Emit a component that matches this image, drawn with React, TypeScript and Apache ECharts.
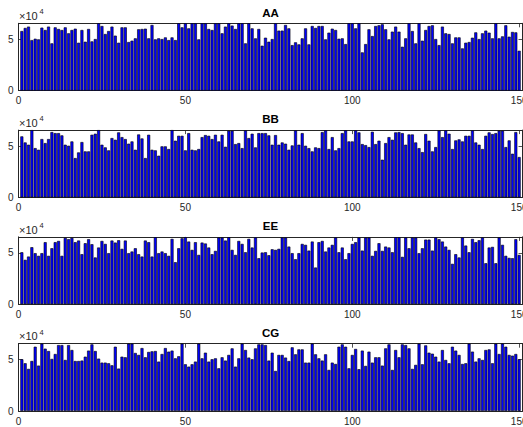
import React, { useEffect, useRef } from "react";
import * as echarts from "echarts";

const panelTitles = ["AA", "BB", "EE", "CG"];
const barIndex = Array.from({ length: 150 }, (_, i) => i + 1);
const xTickValues = [0, 50, 100, 150];
const yTickLabels: Record<number, string> = { 0: "0", 50000: "5" };
const yMax = 65536;

const aa = [
  58000, 61000, 62300, 49200, 50500, 49900, 61300, 59000, 62300, 46000,
  61600, 60000, 59000, 61600, 55800, 59000, 60300, 46600, 59000, 47600,
  60000, 47900, 50200, 65536, 62900, 55100, 58000, 62300, 53500, 46600,
  61600, 61600, 47300, 48600, 50900, 59700, 60000, 60300, 50900, 63900,
  49900, 50900, 50200, 51800, 49200, 51800, 49200, 65536, 61600, 65536,
  60600, 65536, 65536, 49900, 65536, 65536, 60000, 59000, 65536, 65536,
  55800, 62300, 65536, 63300, 60000, 65536, 65536, 46000, 65536, 60600,
  50900, 60000, 43700, 51500, 47600, 50200, 65536, 58400, 58400, 63900,
  60600, 44300, 47000, 45000, 50900, 60600, 45000, 62900, 61000, 62900,
  62900, 49900, 56400, 60300, 59000, 50500, 50900, 45300, 65536, 65536,
  60600, 65536, 37200, 45300, 59700, 53100, 62900, 63600, 64600, 59700,
  49900, 57400, 62300, 57400, 42700, 50900, 65536, 58000, 46000, 65536,
  48600, 59000, 62900, 63600, 50200, 44300, 62300, 55800, 55100, 46000,
  51800, 51800, 41100, 46600, 47300, 51500, 56700, 50200, 55800, 58400,
  56400, 50900, 65536, 50900, 52800, 63600, 52500, 57100, 56700, 38800,
];

const bb = [
  59400, 53500, 51300, 65536, 48000, 46400, 56800, 52900, 56800, 63600,
  62600, 62600, 60400, 51300, 50300, 54500, 38300, 43800, 53900, 44800,
  44800, 61000, 62000, 65536, 51300, 48700, 45800, 57800, 56100, 63300,
  58700, 56800, 52300, 54500, 46400, 61300, 57400, 38300, 61000, 46400,
  45800, 40600, 49700, 49700, 47100, 65536, 55200, 60000, 60000, 45800,
  62600, 46400, 45800, 47100, 58700, 60700, 60000, 56800, 61000, 54500,
  61000, 49300, 64900, 64900, 51900, 52900, 48000, 65200, 57800, 62000,
  48700, 62600, 62600, 62600, 60400, 51300, 60700, 51300, 53500, 52300,
  46400, 50600, 65200, 51300, 62600, 50300, 48000, 44800, 48700, 48000,
  63600, 65200, 47100, 58700, 45800, 48000, 62600, 65200, 54500, 54500,
  65200, 63300, 51900, 50900, 49000, 63900, 51900, 55200, 36700, 52900,
  58700, 56100, 63300, 63600, 62600, 51300, 61300, 61300, 53500, 48000,
  44100, 61700, 55200, 44800, 49000, 65200, 58700, 65200, 62000, 47100,
  55500, 56500, 54500, 60000, 60000, 65200, 53500, 51300, 47100, 60000,
  63300, 61700, 62600, 64900, 64900, 49000, 55500, 42500, 63600, 39300,
];

const ee = [
  50600, 43200, 46400, 55500, 49700, 47100, 49700, 60400, 47100, 54500,
  60400, 61600, 47100, 64600, 63300, 64600, 60400, 62000, 48700, 59400,
  63300, 58400, 45500, 55200, 61600, 58700, 49700, 62000, 60000, 62300,
  53900, 62000, 49700, 51300, 54500, 48700, 46400, 62000, 60400, 46400,
  65200, 49700, 51300, 49700, 47100, 63600, 40900, 54500, 64200, 65200,
  61000, 52900, 60400, 48000, 60000, 59100, 55200, 48700, 51900, 64900,
  64900, 62000, 65200, 52900, 48000, 61600, 58700, 50600, 63600, 55200,
  64900, 44800, 50300, 50600, 47700, 53500, 52900, 53900, 64900, 64900,
  56100, 49700, 43800, 49700, 58700, 57800, 52200, 61000, 35700, 60400,
  61600, 51300, 55200, 57800, 64900, 50600, 55200, 43800, 49700, 58700,
  60400, 64900, 52200, 64900, 64900, 47100, 51900, 59400, 51900, 56100,
  55200, 50600, 65200, 65200, 46100, 64900, 54500, 64900, 64900, 49700,
  54500, 62900, 62900, 52200, 64900, 63300, 61000, 56100, 52900, 39300,
  48700, 45500, 64900, 57100, 50600, 63600, 60400, 62300, 64900, 39900,
  55200, 55800, 39900, 64900, 57800, 47100, 45100, 44800, 63300, 48000,
];

const cg = [
  50400, 46500, 41000, 48700, 62600, 44200, 65536, 60700, 58400, 50700,
  55500, 64200, 64200, 49700, 64200, 59400, 48700, 48700, 49100, 52900,
  58800, 64900, 58400, 51000, 47100, 47100, 46500, 44500, 62600, 41300,
  52900, 52300, 65536, 65536, 56500, 54600, 61300, 52300, 57500, 58100,
  58400, 48100, 55500, 61300, 57800, 58800, 51300, 53300, 65536, 45500,
  43200, 45500, 48100, 65536, 51300, 56800, 48100, 50400, 51300, 41600,
  52300, 49100, 54600, 61000, 43200, 51300, 65536, 59400, 52000, 50400,
  61000, 64900, 64900, 64200, 49100, 56800, 39000, 54600, 54600, 52000,
  48700, 62000, 55200, 60000, 60000, 47100, 47100, 65536, 55200, 51300,
  49100, 55200, 40000, 47100, 45800, 62600, 64900, 62600, 41600, 54600,
  60400, 40700, 58800, 43900, 57800, 47100, 52300, 52300, 44200, 61000,
  64900, 40000, 59400, 52300, 64900, 64200, 61000, 41000, 44900, 65536,
  45500, 63900, 56800, 55800, 52900, 48100, 59400, 49700, 46500, 62600,
  58800, 54600, 45800, 46500, 65536, 57800, 48100, 51300, 49700, 59400,
  60000, 46500, 65536, 55500, 65536, 62600, 54600, 53900, 55500, 50400,
];

const panelValues = [aa, bb, ee, cg];

const FONT = '"Liberation Sans", Arial, sans-serif';
const AXIS_COLOR = "#262626";

export default function App() {
  const ref = useRef<HTMLDivElement>(null);

  useEffect(() => {
    if (!ref.current) return;
    const chart = echarts.init(ref.current, null, { renderer: "svg" });

    const gridLeft = 18.5;
    const gridWidth = 504;
    const gridHeight = 67.3;
    const firstTop = 23.3;
    const step = 106.8;
    const xMax = 151;

    const grids: any[] = [];
    const xAxes: any[] = [];
    const yAxes: any[] = [];
    const series: any[] = [];
    const graphics: any[] = [];

    panelValues.forEach((vals, k) => {
      const top = firstTop + step * k;
      grids.push({
        left: gridLeft,
        top,
        width: gridWidth,
        height: gridHeight,
        show: false,
        containLabel: false,
        outerBoundsMode: "none",
      });
      const baseX = {
        type: "value",
        gridIndex: k,
        min: 0,
        max: xMax,
        interval: 50,
        splitLine: { show: false },
        axisLine: { show: true, onZero: false, lineStyle: { color: AXIS_COLOR, width: 1 } },
        axisTick: { show: true, inside: true, length: 4, lineStyle: { color: AXIS_COLOR, width: 0.8 } },
      };
      xAxes.push({
        ...baseX,
        position: "bottom",
        axisLabel: {
          show: true,
          margin: 5,
          color: AXIS_COLOR,
          fontSize: 10,
          fontFamily: FONT,
          showMaxLabel: false,
          formatter: (v: number) => (xTickValues.includes(v) ? String(v) : ""),
        },
      });
      xAxes.push({
        ...baseX,
        position: "top",
        axisLabel: { show: false },
      });
      const baseY = {
        type: "value",
        gridIndex: k,
        min: 0,
        max: yMax,
        interval: 50000,
        splitLine: { show: false },
        axisLine: { show: true, onZero: false, lineStyle: { color: AXIS_COLOR, width: 1 } },
        axisTick: { show: true, inside: true, length: 4, lineStyle: { color: AXIS_COLOR, width: 0.8 } },
      };
      yAxes.push({
        ...baseY,
        position: "left",
        axisLabel: {
          show: true,
          margin: 5,
          color: AXIS_COLOR,
          fontSize: 10,
          fontFamily: FONT,
          showMaxLabel: false,
          formatter: (v: number) => (yTickLabels[v] !== undefined ? yTickLabels[v] : ""),
        },
      });
      yAxes.push({
        ...baseY,
        position: "right",
        axisLabel: { show: false },
      });
      series.push({
        type: "bar",
        xAxisIndex: 2 * k,
        yAxisIndex: 2 * k,
        data: vals.map((v, i) => [barIndex[i], v]),
        barWidth: 3,
        itemStyle: { color: "#0000ff", borderColor: "#000000", borderWidth: 0.6 },
        clip: true,
        silent: true,
      });
      graphics.push({
        type: "text",
        x: gridLeft + gridWidth / 2,
        y: top - 10.8,
        style: {
          text: panelTitles[k],
          font: `bold 11.5px ${FONT}`,
          fill: "#000000",
          align: "center",
          verticalAlign: "middle",
        },
      });
      graphics.push({
        type: "text",
        x: 19,
        y: top - 7.3,
        style: {
          text: "×10",
          font: `11px ${FONT}`,
          fill: AXIS_COLOR,
          align: "left",
          verticalAlign: "middle",
        },
      });
      graphics.push({
        type: "text",
        x: 39.5,
        y: top - 11.5,
        style: {
          text: "4",
          font: `7.5px ${FONT}`,
          fill: AXIS_COLOR,
          align: "left",
          verticalAlign: "middle",
        },
      });
    });

    chart.setOption({
      animation: false,
      backgroundColor: "#ffffff",
      grid: grids,
      xAxis: xAxes,
      yAxis: yAxes,
      series,
      graphic: graphics,
    });

    return () => chart.dispose();
  }, []);

  return (
    <div
      ref={ref}
      style={{ position: "fixed", left: 0, top: 0, width: 523, height: 427 }}
    />
  );
}
